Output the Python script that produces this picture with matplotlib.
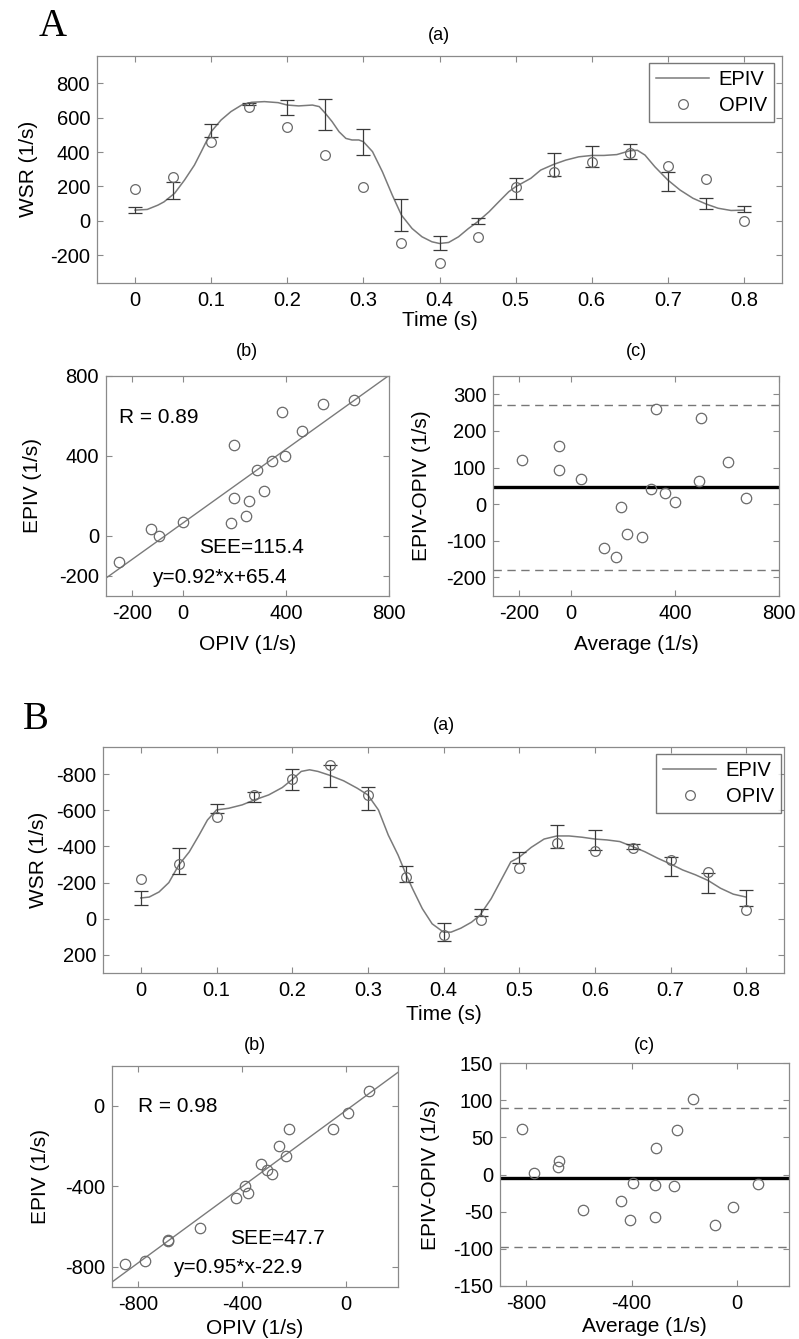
import matplotlib
matplotlib.use("Agg")
import matplotlib.pyplot as plt
from matplotlib.lines import Line2D
import numpy as np

# ---------------- data ----------------
t = [0, 0.05, 0.1, 0.15, 0.2, 0.25, 0.3, 0.35, 0.4, 0.45, 0.5, 0.55, 0.6, 0.65, 0.7, 0.75, 0.8]
t_labels = ["0", "0.1", "0.2", "0.3", "0.4", "0.5", "0.6", "0.7", "0.8"]

# Panel A
A_epiv = [65, 174, 524, 679, 659, 617, 456, 33, -128, 0, 188, 327, 374, 401, 226, 101, 70]
A_opiv = [184, 255, 460, 663, 545, 383, 196, -127, -248, -94, 197, 286, 344, 396, 316, 244, 1]
A_err = [17, 49, 39, 8, 41, 90, 76, 95, 42, 16, 62, 65, 59, 43, 55, 34, 17]
A_curve_t = [0, 0.016, 0.03, 0.038, 0.052, 0.065, 0.078, 0.087, 0.1, 0.113, 0.126, 0.14, 0.153, 0.17,
             0.188, 0.2, 0.215, 0.233, 0.242, 0.25, 0.259, 0.268, 0.277, 0.285, 0.294, 0.3, 0.312, 0.325,
             0.338, 0.35, 0.364, 0.377, 0.39, 0.4, 0.412, 0.425, 0.438, 0.45, 0.465, 0.478, 0.491, 0.5,
             0.52, 0.533, 0.55, 0.566, 0.583, 0.6, 0.616, 0.633, 0.65, 0.66, 0.67, 0.683, 0.7, 0.716,
             0.733, 0.75, 0.766, 0.783, 0.8]
A_curve = [62, 66, 91, 110, 160, 237, 324, 402, 518, 586, 635, 673, 689, 693, 687, 673, 668, 673, 664,
           625, 576, 518, 479, 470, 470, 460, 402, 285, 149, 33, -45, -93, -122, -132, -126, -93, -45,
           -6, 52, 111, 169, 198, 247, 295, 328, 353, 372, 380, 380, 385, 407, 410, 382, 314, 237, 179,
           131, 98, 73, 60, 62]
A_fit = (0.92, 65.4)
A_mean_diff = 46
A_loa = [271, -180]
A_R, A_SEE = "R = 0.89", "SEE=115.4"
A_eq = "y=0.92*x+65.4"

# Panel B
B_epiv = [-116, -318, -609, -675, -771, -787, -666, -248, 75, -36, -340, -457, -436, -400, -289, -198, -116]
B_opiv = [-218, -304, -561, -685, -773, -848, -684, -232, 88, 8, -283, -421, -375, -389, -325, -258, -48]
B_err = [38, 72, 24, 28, 57, 61, 65, 46, 49, 18, 29, 64, 57, 16, 51, 57, 43]
B_curve_t = [0, 0.011, 0.024, 0.037, 0.05, 0.064, 0.077, 0.088, 0.1, 0.116, 0.134, 0.15, 0.169, 0.187,
             0.2, 0.212, 0.223, 0.234, 0.25, 0.268, 0.286, 0.3, 0.314, 0.327, 0.34, 0.35, 0.359, 0.372,
             0.385, 0.4, 0.41, 0.423, 0.437, 0.448, 0.463, 0.476, 0.489, 0.5, 0.516, 0.533, 0.55, 0.566,
             0.583, 0.6, 0.616, 0.633, 0.65, 0.666, 0.683, 0.7, 0.716, 0.733, 0.75, 0.766, 0.783, 0.8]
B_curve = [-115, -120, -148, -200, -296, -370, -463, -546, -602, -611, -630, -657, -685, -726, -770,
           -815, -824, -815, -793, -763, -722, -685, -602, -463, -352, -250, -167, -56, 28, 74, 74, 52,
           19, -19, -111, -213, -315, -340, -395, -441, -458, -458, -451, -441, -436, -427, -399, -371,
           -335, -303, -270, -243, -211, -169, -136, -120]
B_fit = (0.95, -22.9)
B_mean_diff = -5
B_loa = [90, -98]
B_R, B_SEE = "R = 0.98", "SEE=47.7"
B_eq = "y=0.95*x-22.9"

# ---------------- style ----------------
W, H = 799, 1339
plt.rcParams["font.family"] = ["Liberation Sans", "DejaVu Sans"]
plt.rcParams["axes.unicode_minus"] = False
plt.rcParams["xtick.direction"] = "in"
plt.rcParams["ytick.direction"] = "in"
plt.rcParams["xtick.top"] = True
plt.rcParams["ytick.right"] = True
plt.rcParams["axes.edgecolor"] = "#8a8a8a"
plt.rcParams["xtick.color"] = "#8a8a8a"
plt.rcParams["ytick.color"] = "#8a8a8a"
plt.rcParams["xtick.labelcolor"] = "black"
plt.rcParams["ytick.labelcolor"] = "black"
plt.rcParams["xtick.major.size"] = 4
plt.rcParams["ytick.major.size"] = 4

TICK_FS = 14.5
LAB_FS = 15
TITLE_FS = 13
ANN_FS = 15
LINE_C = "#7a7a7a"
MARK_C = "#6a6a6a"
ERR_C = "#3a3a3a"

fig = plt.figure(figsize=(W / 100, H / 100), dpi=100)


def add_ax(l, r, t_, b):
    return fig.add_axes([l / W, 1 - b / H, (r - l) / W, (b - t_) / H])


def fig_text(x, y, s, **kw):
    fig.text(x / W, 1 - y / H, s, ha="center", va="center", **kw)


def style(ax, xlab, ylab, xlab_y, ylab_x):
    ax.tick_params(labelsize=TICK_FS, width=0.8)
    ax.tick_params(axis="x", pad=6)
    ax.tick_params(axis="y", pad=5)
    for s in ax.spines.values():
        s.set_linewidth(0.9)
    ax.set_xlabel(xlab, fontsize=LAB_FS)
    ax.set_ylabel(ylab, fontsize=LAB_FS)
    ax.xaxis.label.set_va("center")
    ax.yaxis.label.set_va("center")
    bb = ax.get_position()
    cx = (bb.x0 + bb.x1) / 2 * W
    cy = (1 - (bb.y0 + bb.y1) / 2) * H
    ax.xaxis.set_label_coords(cx / W, 1 - xlab_y / H, transform=fig.transFigure)
    ax.yaxis.set_label_coords(ylab_x / W, 1 - cy / H, transform=fig.transFigure)


def time_panel(ax, curve_t, curve, epiv, opiv, err, ylim, yticks, legend_box):
    ax.plot(curve_t, curve, color=LINE_C, lw=1.1, zorder=2)
    ax.errorbar(t, epiv, yerr=err, fmt="none", ecolor=ERR_C, elinewidth=0.9, capsize=5,
                capthick=0.9, zorder=3)
    ax.plot(t, opiv, linestyle="none", marker="o", markersize=7, markerfacecolor="none",
            markeredgecolor=MARK_C, markeredgewidth=0.9, zorder=4)
    ax.set_xlim(-0.05, 0.85)
    ax.set_xticks([float(s) for s in t_labels])
    ax.set_xticklabels(t_labels)
    ax.set_ylim(*ylim)
    ax.set_yticks(yticks)
    handles = [Line2D([], [], color=LINE_C, lw=1.1),
               Line2D([], [], linestyle="none", marker="o", markersize=7, markerfacecolor="none",
                      markeredgecolor=MARK_C, markeredgewidth=0.9)]
    l, r, tp, bt = legend_box
    leg = ax.legend(handles, ["EPIV", "OPIV"], loc="upper right",
                    bbox_to_anchor=(r / W, 1 - tp / H), bbox_transform=fig.transFigure,
                    fontsize=TICK_FS, frameon=True, fancybox=False, borderaxespad=0,
                    handlelength=2.6, handletextpad=0.5, borderpad=0.35, labelspacing=0.35)
    leg.get_frame().set_edgecolor("#555555")
    leg.get_frame().set_linewidth(1.0)


def scatter_panel(ax, opiv, epiv, fit, lims, ticks, R, SEE, eq, pos_R, pos_SEE, pos_eq):
    ax.plot(opiv, epiv, linestyle="none", marker="o", markersize=7.5, markerfacecolor="none",
            markeredgecolor=MARK_C, markeredgewidth=0.9, zorder=3)
    xs = np.array(lims)
    ax.plot(xs, fit[0] * xs + fit[1], color=LINE_C, lw=1.0, zorder=2)
    ax.set_xlim(*lims)
    ax.set_ylim(*lims)
    ax.set_xticks(ticks[0])
    ax.set_yticks(ticks[1])
    ax.text(*pos_R, R, fontsize=ANN_FS, ha="left", va="center")
    ax.text(*pos_SEE, SEE, fontsize=ANN_FS, ha="left", va="center")
    ax.text(*pos_eq, eq, fontsize=ANN_FS, ha="left", va="center")


def ba_panel(ax, opiv, epiv, mean_diff, loa, xlim, xticks, ylim, yticks):
    e = np.array(epiv, dtype=float)
    o = np.array(opiv, dtype=float)
    ax.plot((e + o) / 2, e - o, linestyle="none", marker="o", markersize=7.5, markerfacecolor="none",
            markeredgecolor=MARK_C, markeredgewidth=0.9, zorder=3)
    ax.axhline(mean_diff, color="black", lw=2.4, zorder=2)
    for v in loa:
        ax.axhline(v, color="#777777", lw=1.0, ls=(0, (6, 4)), zorder=2)
    ax.set_xlim(*xlim)
    ax.set_xticks(xticks)
    ax.set_ylim(*ylim)
    ax.set_yticks(yticks)


# ---------------- Panel A ----------------
axAa = add_ax(97, 782, 55.7, 282.7)
time_panel(axAa, A_curve_t, A_curve, A_epiv, A_opiv, A_err, (-360, 960),
           [-200, 0, 200, 400, 600, 800], (657, 774, 63, 122))
style(axAa, "Time (s)", "WSR (1/s)", 320, 28)

axAb = add_ax(106, 389, 375.7, 596)
scatter_panel(axAb, A_opiv, A_epiv, A_fit, (-300, 800), ([-200, 0, 400, 800], [-200, 0, 400, 800]),
              A_R, A_SEE, A_eq, (-250, 590), (60, -58), (-120, -208))
style(axAb, "OPIV (1/s)", "EPIV (1/s)", 644, 33)

axAc = add_ax(493.3, 779.3, 376, 595.7)
ba_panel(axAc, A_opiv, A_epiv, A_mean_diff, A_loa, (-300, 800), [-200, 0, 400, 800],
         (-250, 350), [-200, -100, 0, 100, 200, 300])
style(axAc, "Average (1/s)", "EPIV-OPIV (1/s)", 644, 422)

# ---------------- Panel B ----------------
axBa = add_ax(103, 784, 747, 973)
time_panel(axBa, B_curve_t, B_curve, B_epiv, B_opiv, B_err, (300, -950),
           [200, 0, -200, -400, -600, -800], (666, 781, 754, 813))
style(axBa, "Time (s)", "WSR (1/s)", 1015, 38)

axBb = add_ax(111.7, 398, 1065.7, 1286.7)
scatter_panel(axBb, B_opiv, B_epiv, B_fit, (-900, 200), ([-800, -400, 0], [-800, -400, 0]),
              B_R, B_SEE, B_eq, (-800, -3), (-447, -658), (-665, -803))
style(axBb, "OPIV (1/s)", "EPIV (1/s)", 1328, 40)

axBc = add_ax(500, 789.3, 1063.3, 1285.7)
ba_panel(axBc, B_opiv, B_epiv, B_mean_diff, B_loa, (-900, 200), [-800, -400, 0],
         (-150, 150), [-150, -100, -50, 0, 50, 100, 150])
style(axBc, "Average (1/s)", "EPIV-OPIV (1/s)", 1326, 430)

# ---------------- titles & letters ----------------
fig_text(439, 35, "(a)", fontsize=TITLE_FS)
fig_text(247, 352, "(b)", fontsize=TITLE_FS)
fig_text(636, 351, "(c)", fontsize=TITLE_FS)
fig_text(444, 725, "(a)", fontsize=TITLE_FS)
fig_text(255, 1045, "(b)", fontsize=TITLE_FS)
fig_text(644, 1046, "(c)", fontsize=TITLE_FS)
fig_text(53, 26, "A", fontsize=28, family=["Liberation Serif", "DejaVu Serif"])
fig_text(36, 719, "B", fontsize=28, family=["Liberation Serif", "DejaVu Serif"])

fig.savefig("out.png", dpi=100)
